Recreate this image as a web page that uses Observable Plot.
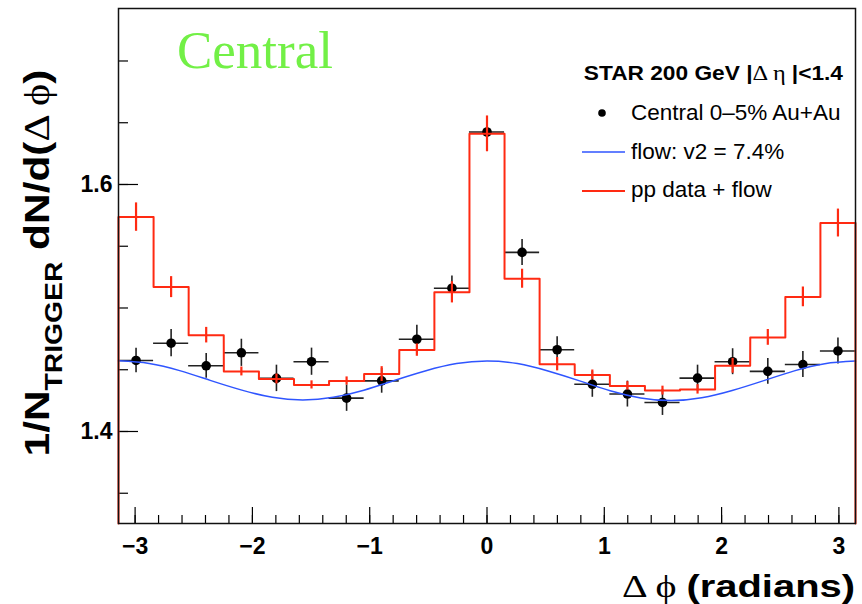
<!DOCTYPE html>
<html>
<head>
<meta charset="utf-8">
<script src="https://cdn.jsdelivr.net/npm/d3@7"></script>
<script src="https://cdn.jsdelivr.net/npm/@observablehq/plot@0.6"></script>
<style>
  body { margin: 0; background: #fff; }
  #chart svg { display: block; }
</style>
</head>
<body>
<div id="chart"></div>
<script>
// ---- data ----
const binCenters = [-2.992, -2.693, -2.394, -2.094, -1.795, -1.496, -1.197, -0.898, -0.598, -0.299, 0,
                    0.299, 0.598, 0.898, 1.197, 1.496, 1.795, 2.094, 2.394, 2.693, 2.992];
const binHalfWidth = 0.1496;

// Central 0-5% Au+Au (black points)
const auauValues = [1.4575, 1.4715, 1.4532, 1.4637, 1.4430, 1.4565, 1.4270, 1.4410, 1.4747, 1.5160, 1.6425,
                    1.5450, 1.4662, 1.4382, 1.4303, 1.4235, 1.4432, 1.4565, 1.4487, 1.4542, 1.4652];
const auauErrors = [0.0100, 0.0110, 0.0100, 0.0110, 0.0107, 0.0110, 0.0107, 0.0100, 0.0113, 0.0100, 0.0120,
                    0.0105, 0.0105, 0.0105, 0.0105, 0.0105, 0.0105, 0.0105, 0.0105, 0.0105, 0.0105];

// pp data + flow (red histogram)
const ppValues = [1.5736, 1.5169, 1.4780, 1.4486, 1.4425, 1.4377, 1.4409, 1.4465, 1.4659, 1.5127, 1.6410,
                  1.5237, 1.4545, 1.4458, 1.4369, 1.4331, 1.4341, 1.4532, 1.4762, 1.5090, 1.5688];
const ppErrors = [0.0115, 0.0085, 0.0063, 0.0036, 0.0040, 0.0033, 0.0033, 0.0060, 0.0050, 0.0086, 0.0145,
                  0.0077, 0.0054, 0.0040, 0.0034, 0.0036, 0.0038, 0.0060, 0.0064, 0.0080, 0.0113];

// flow: v2 = 7.4% (blue curve), read at sample positions
const flowX = [-3.1416, -2.88, -2.62, -2.36, -2.09, -1.83, -1.57, -1.31, -1.05, -0.79, -0.52, -0.26, 0,
               0.26, 0.52, 0.79, 1.05, 1.31, 1.57, 1.83, 2.09, 2.36, 2.62, 2.88, 3.1416];
const flowY = [1.4572, 1.4551, 1.4493, 1.4414, 1.4335, 1.4277, 1.4256, 1.4277, 1.4334, 1.4413, 1.4492, 1.4550, 1.4571,
               1.4550, 1.4490, 1.4410, 1.4330, 1.4272, 1.4250, 1.4273, 1.4332, 1.4412, 1.4491, 1.4549, 1.4570];

const xMajorTicks = [-3, -2, -1, 0, 1, 2, 3];
const xTickLabels = ["−3", "−2", "−1", "0", "1", "2", "3"];
const xMinorTicks = [-3.0, -2.8, -2.6, -2.4, -2.2, -2.0, -1.8, -1.6, -1.4, -1.2, -1.0, -0.8, -0.6, -0.4, -0.2, 0,
                     0.2, 0.4, 0.6, 0.8, 1.0, 1.2, 1.4, 1.6, 1.8, 2.0, 2.2, 2.4, 2.6, 2.8, 3.0];
const yMajorTicks = [1.4, 1.6];
const yTickLabels = ["1.4", "1.6"];
const yMinorTicks = [1.35, 1.40, 1.45, 1.50, 1.55, 1.60, 1.65, 1.70];

const xDomain = [-Math.PI, Math.PI];
const yDomain = [1.3255, 1.7425];

// ---- derived tables ----
const points = binCenters.map((x, i) => ({x, y: auauValues[i], e: auauErrors[i]}));
const pp = binCenters.map((x, i) => ({x, y: ppValues[i], e: ppErrors[i]}));
const flow = flowX.map((x, i) => ({x, y: flowY[i]}));
const hist = [{x: xDomain[0], y: yDomain[0]}];
pp.forEach(d => { hist.push({x: d.x - binHalfWidth, y: d.y}); hist.push({x: d.x + binHalfWidth, y: d.y}); });
hist.push({x: xDomain[1], y: yDomain[0]});

const RED = "#ff2a12";
const BLUE = "#2f55ff";
const FONT = "Liberation Sans, Arial, Helvetica, sans-serif";
const SERIF = "Liberation Serif, DejaVu Serif, serif";

const plot = Plot.plot({
  width: 862,
  height: 604,
  marginLeft: 118,
  marginRight: 7,
  marginTop: 8,
  marginBottom: 81,
  style: {fontFamily: FONT, background: "#fff", overflow: "visible"},
  x: {domain: xDomain, axis: null},
  y: {domain: yDomain, axis: null},
  marks: [
    // ticks (inside)
    Plot.axisX(xMinorTicks, {anchor: "bottom", label: null, tickSize: -8, tickFormat: () => "", stroke: "#000", strokeWidth: 1.2}),
    Plot.axisX(xMajorTicks, {anchor: "bottom", label: null, tickSize: -16, tickFormat: () => "", stroke: "#000", strokeWidth: 1.2}),
    Plot.axisX(xMajorTicks, {anchor: "bottom", label: null, tickSize: 0, tickPadding: 14, fontSize: 23, fontWeight: "bold", fill: "#000",
      tickFormat: d => xTickLabels[xMajorTicks.indexOf(d)]}),
    Plot.axisY(yMinorTicks, {anchor: "left", label: null, tickSize: -10, tickFormat: () => "", stroke: "#000", strokeWidth: 1.2}),
    Plot.axisY(yMajorTicks, {anchor: "left", label: null, tickSize: -20, tickFormat: () => "", stroke: "#000", strokeWidth: 1.2}),
    Plot.axisY(yMajorTicks, {anchor: "left", label: null, tickSize: 0, tickPadding: 6, fontSize: 23, fontWeight: "bold", fill: "#000",
      tickFormat: d => yTickLabels[yMajorTicks.indexOf(d)]}),
    // black data points with error bars
    Plot.ruleY(points, {y: "y", x1: d => d.x - binHalfWidth, x2: d => d.x + binHalfWidth, stroke: "#222", strokeWidth: 1.6}),
    Plot.ruleX(points, {x: "x", y1: d => d.y - d.e, y2: d => d.y + d.e, stroke: "#222", strokeWidth: 1.6}),
    Plot.dot(points, {x: "x", y: "y", r: 4.8, fill: "#000", stroke: "none"}),
    // flow curve
    Plot.line(flow, {x: "x", y: "y", stroke: BLUE, strokeWidth: 1.5, curve: "natural"}),
    // pp + flow histogram
    Plot.line(hist, {x: "x", y: "y", stroke: RED, strokeWidth: 2}),
    Plot.ruleX(pp, {x: "x", y1: d => d.y - d.e, y2: d => d.y + d.e, stroke: RED, strokeWidth: 2.2}),
    Plot.frame({stroke: "#111", strokeWidth: 1.5})
  ]
});

document.getElementById("chart").appendChild(plot);

const svg = d3.select(plot);

// Green "Central" label
svg.append("text")
  .attr("x", 177).attr("y", 68)
  .attr("text-anchor", "start")
  .attr("font-family", "Liberation Serif, Times New Roman, serif")
  .attr("font-size", 53)
  .attr("fill", "#72f046")
  .text("Central");

// Legend
const lg = svg.append("g").attr("font-family", FONT).attr("fill", "#000").attr("text-anchor", "start");
const head = lg.append("text").attr("text-anchor", "end")
  .attr("font-size", 20.5).attr("font-weight", "bold");
head.append("tspan").text("STAR 200 GeV |");
head.append("tspan").attr("font-weight", "normal").attr("font-family", SERIF).attr("font-size", 22).text("Δ η ");
head.append("tspan").text("|<1.4");
{
  const w = head.node().getBBox().width;
  head.attr("transform", `translate(843,80) scale(${260 / w},1)`);
}

lg.append("circle").attr("cx", 602).attr("cy", 113).attr("r", 3.8).attr("fill", "#000");
lg.append("text").attr("x", 631).attr("y", 120).attr("font-size", 22.5).text("Central 0–5% Au+Au");

lg.append("line").attr("x1", 582).attr("x2", 625).attr("y1", 152).attr("y2", 152)
  .attr("stroke", BLUE).attr("stroke-width", 1.5);
lg.append("text").attr("x", 631).attr("y", 159).attr("font-size", 22.5).text("flow: v2 = 7.4%");

lg.append("line").attr("x1", 582).attr("x2", 625).attr("y1", 191).attr("y2", 191)
  .attr("stroke", RED).attr("stroke-width", 2.2);
lg.append("text").attr("x", 631).attr("y", 197).attr("font-size", 22.5).text("pp data + flow");

// X axis title
const xt = svg.append("text")
  .attr("font-family", FONT).attr("font-weight", "bold").attr("font-size", 31)
  .attr("text-anchor", "end").attr("fill", "#000");
xt.append("tspan").attr("font-weight", "normal").attr("font-family", SERIF).text("Δ ϕ ");
xt.append("tspan").text("(radians)");
{
  const w = xt.node().getBBox().width;
  xt.attr("transform", `translate(855,597) scale(${233 / w},1)`);
}

// Y axis title (rotated)
const yt = svg.append("text")
  .attr("font-family", FONT).attr("font-weight", "bold").attr("font-size", 36)
  .attr("text-anchor", "middle").attr("fill", "#000");
yt.append("tspan").text("1/N");
yt.append("tspan").attr("font-size", 24).attr("dy", 13).text("TRIGGER");
yt.append("tspan").attr("dy", -13).text(" dN/d(");
yt.append("tspan").attr("font-weight", "normal").attr("font-family", SERIF).text("Δ ϕ");
yt.append("tspan").text(")");
{
  const w = yt.node().getBBox().width;
  yt.attr("transform", `translate(49,263) rotate(-90) scale(${387 / w},1)`);
}
</script>
</body>
</html>
